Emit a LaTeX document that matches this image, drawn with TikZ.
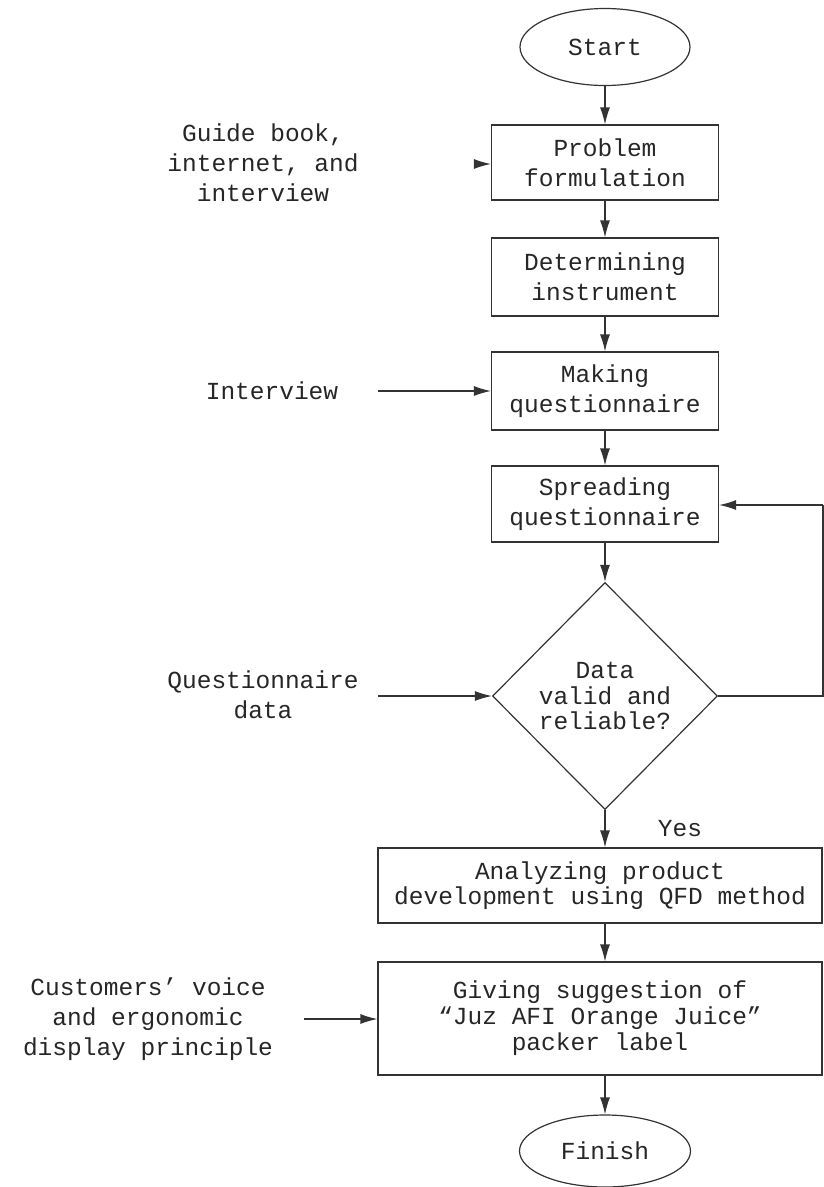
\documentclass[tikz,border=0pt]{standalone}
\usepackage{fontspec}
\newfontfamily\mono{Liberation Mono}
\usetikzlibrary{shapes.geometric,arrows.meta}
\begin{document}
\begin{tikzpicture}[x=1pt,y=-1pt,
  every node/.style={font=\mono\fontsize{24.5}{30}\selectfont, text=black!85, inner sep=0pt, align=center},
  proc/.style={draw=black!80, line width=1.2pt, rectangle},
  term/.style={draw=black!80, line width=1.2pt, ellipse},
  decis/.style={draw=black!80, line width=1.2pt, diamond, minimum width=225pt, minimum height=227pt},
  tight/.style={font=\mono\fontsize{24.5}{25.5}\selectfont},
  arr/.style={draw=black!80, line width=1.2pt, -{Latex[length=17pt,width=10pt]}},
  ln/.style={draw=black!80, line width=1.2pt}]
\useasboundingbox (0,0) rectangle (824,1187);

% main column
\node[term, minimum width=170pt, minimum height=77pt] (start) at (605,47) {Start};
\node[proc, minimum width=227pt, minimum height=75pt] (prob) at (605,162.5) {Problem\\formulation};
\node[proc, minimum width=227pt, minimum height=78pt] (det) at (605,277) {Determining\\instrument};
\node[proc, minimum width=227pt, minimum height=78pt] (make) at (605,391) {Making\\questionnaire};
\node[proc, minimum width=227pt, minimum height=76pt] (spread) at (605,504) {Spreading\\questionnaire};
\node[decis, tight] (dec) at (605,696) {Data\\valid and\\reliable?};
\node[proc, tight, minimum width=444pt, minimum height=75pt] (anal) at (600,885.5) {Analyzing product\\development using QFD method};
\node[proc, font=\mono\fontsize{24.5}{26}\selectfont, minimum width=444pt, minimum height=113pt] (give) at (600,1018.5) {Giving suggestion of\\“Juz AFI Orange Juice”\\packer label};
\node[term, minimum width=171pt, minimum height=72pt] (fin) at (605,1151) {Finish};

% side inputs
\node (guide) at (263,163) {Guide book,\\internet, and\\interview};
\node (intv) at (272,391) {Interview};
\node (qdata) at (263,695) {Questionnaire\\data};
\node (cust) at (148,1019) {Customers’ voice\\and ergonomic\\display principle};
\node (yes) at (680,829) {Yes};

\coordinate (gs) at (474,164);
\coordinate (is) at (378,391);
\coordinate (qs) at (378,696);
\coordinate (cs) at (304,1019);
\coordinate (r1) at (823,696);
\coordinate (r2) at (823,505);

% connectors
\draw[arr] (start.south) -- (prob.north);
\draw[arr] (prob.south) -- (det.north);
\draw[arr] (det.south) -- (make.north);
\draw[arr] (make.south) -- (spread.north);
\draw[arr] (spread.south) -- (dec.north);
\draw[arr] (dec.south) -- (dec.south |- anal.north);
\draw[arr] (dec.south |- anal.south) -- (dec.south |- give.north);
\draw[arr] (dec.south |- give.south) -- (fin.north);

\draw[arr] (gs) -- (prob.west |- gs);
\draw[arr] (is) -- (make.west |- is);
\draw[arr] (qs) -- (dec.west);
\draw[arr] (cs) -- (give.west |- cs);
\draw[ln] (dec.east) -- (r1) -- (r2);
\draw[arr] (r2) -- (spread.east |- r2);
\end{tikzpicture}
\end{document}
